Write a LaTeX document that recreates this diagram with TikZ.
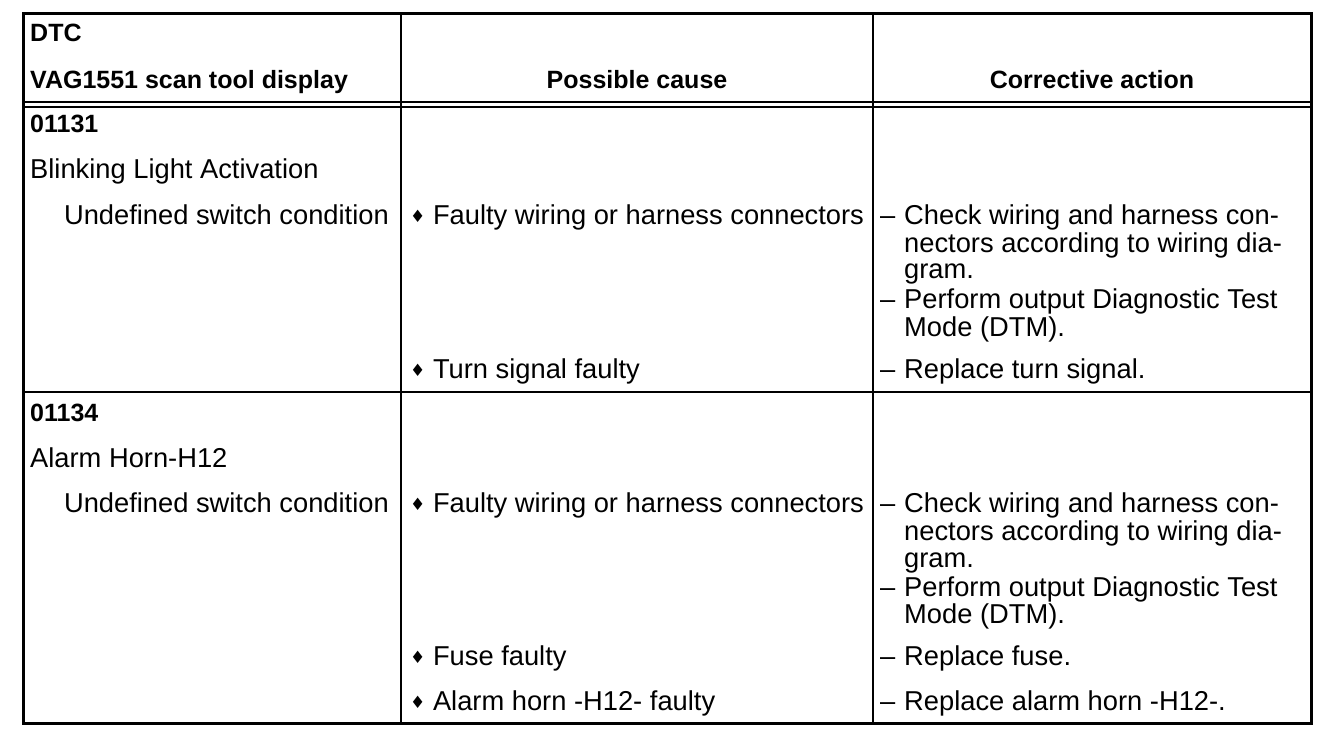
\documentclass[tikz,border=0pt]{standalone}
\usepackage{fontspec}
\setmainfont{Liberation Sans}
\newfontfamily\symfont{DejaVu Sans}
\usetikzlibrary{positioning}
\tikzset{
  txt/.style={inner sep=0pt, anchor=base west, font=\fontsize{27.3}{30}\selectfont},
  bold/.style={txt, font=\fontsize{25}{30}\selectfont\bfseries},
  head/.style={bold, anchor=base},
  rule/.style={line width=2.5pt}
}
\newcommand{\dm}{{\symfont\fontsize{17}{17}\selectfont\raisebox{1.5pt}{♦}}}

\begin{document}
\begin{tikzpicture}[x=1pt,y=-1pt]
\useasboundingbox (0,0) rectangle (1344,740);
\draw[line width=3pt] (23,13) rectangle (1311,723);
\draw[rule] (401,13) -- (401,723);
\draw[rule] (873,13) -- (873,723);
\draw[rule] (23,102) -- (1311,102);
\draw[line width=2pt] (23,107) -- (1311,107);
\draw[rule] (23,392) -- (1311,392);
% header
\node[bold] (dtc) at (30,41) {DTC};
\node[bold] (scan) at (30,88) {VAG1551 scan tool display};
\node[head] (cause) at (637,88) {Possible cause};
\node[head] (action) at (1092,88) {Corrective action};
% 01131
\node[bold] (codeA) at (30,132) {01131};
\node[txt] (nameA) at (30,178) {Blinking Light Activation};
\node[txt, anchor=base east] (condA) at (389,224) {Undefined switch condition};
\node[txt] (wireA) at (410,224) {\dm\ Faulty wiring or harness connectors};
\node[txt] (dashA1) at (880,224) {--};
\node[txt] (checkA1) at (904,224) {Check wiring and harness con-};
\node[txt] (checkA2) at (904,252) {nectors according to wiring dia-};
\node[txt] (checkA3) at (904,278) {gram.};
\node[txt] (dashA2) at (880,308) {--};
\node[txt] (dtmA1) at (904,308) {Perform output Diagnostic Test};
\node[txt] (dtmA2) at (904,336) {Mode (DTM).};
\node[txt] (turn) at (410,378) {\dm\ Turn signal faulty};
\node[txt] (dashA3) at (880,378) {--};
\node[txt] (repturn) at (904,378) {Replace turn signal.};
% 01134
\node[bold] (codeB) at (30,421) {01134};
\node[txt] (nameB) at (30,467) {Alarm Horn-H12};
\node[txt, anchor=base east] (condB) at (389,512) {Undefined switch condition};
\node[txt] (wireB) at (410,512) {\dm\ Faulty wiring or harness connectors};
\node[txt] (dashB1) at (880,512) {--};
\node[txt] (checkB1) at (904,512) {Check wiring and harness con-};
\node[txt] (checkB2) at (904,540) {nectors according to wiring dia-};
\node[txt] (checkB3) at (904,567) {gram.};
\node[txt] (dashB2) at (880,596) {--};
\node[txt] (dtmB1) at (904,596) {Perform output Diagnostic Test};
\node[txt] (dtmB2) at (904,623) {Mode (DTM).};
\node[txt] (fuse) at (410,665) {\dm\ Fuse faulty};
\node[txt] (dashB3) at (880,665) {--};
\node[txt] (repfuse) at (904,665) {Replace fuse.};
\node[txt] (horn) at (410,710) {\dm\ Alarm horn -H12- faulty};
\node[txt] (dashB4) at (880,710) {--};
\node[txt] (rephorn) at (904,710) {Replace alarm horn -H12-.};
\end{tikzpicture}
\end{document}
